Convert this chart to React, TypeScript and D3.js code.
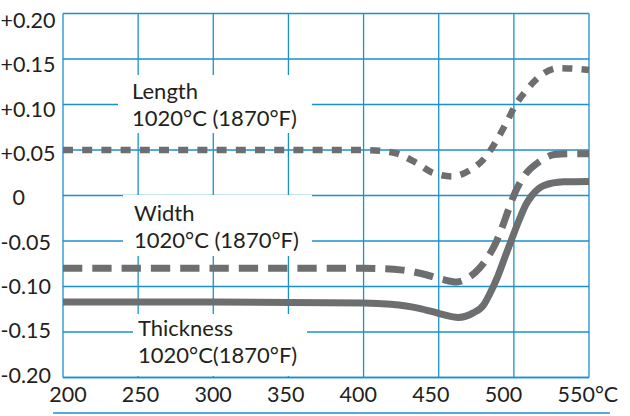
import React from 'react';
import * as d3 from 'd3';

// temperature ticks (°C) and dimensional change ticks
const xTicks = [200, 250, 300, 350, 400, 450, 500, 550];
const xTickLabels = ['200', '250', '300', '350', '400', '450', '500', '550°C'];
const yTicks = [0.2, 0.15, 0.1, 0.05, 0, -0.05, -0.1, -0.15, -0.2];
const yTickLabels = ['+0.20', '+0.15', '+0.10', '+0.05', '0', '-0.05', '-0.10', '-0.15', '-0.20'];

// Length
const lengthTemp = [200, 300, 400, 420, 435, 446, 459, 471, 481, 488, 495, 501, 509, 518, 530, 543, 550];
const lengthVal = [0.05, 0.05, 0.05, 0.047, 0.036, 0.025, 0.021, 0.028, 0.042, 0.059, 0.08, 0.099, 0.117, 0.132, 0.14, 0.139, 0.138];

// Width
const widthTemp = [200, 300, 400, 426, 439, 452, 462, 470, 477, 483, 488, 492, 497, 501, 508, 516, 527, 537, 550];
const widthVal = [-0.08, -0.08, -0.08, -0.082, -0.086, -0.092, -0.095, -0.09, -0.08, -0.067, -0.052, -0.036, -0.013, 0.004, 0.024, 0.036, 0.045, 0.046, 0.046];

// Thickness
const thickTemp = [200, 300, 400, 418, 437, 451, 463, 473, 480, 484, 489, 494, 499, 504, 508, 512, 520, 533, 550];
const thickVal = [-0.117, -0.117, -0.118, -0.1195, -0.124, -0.13, -0.134, -0.129, -0.12, -0.108, -0.09, -0.068, -0.046, -0.025, -0.01, 0.0, 0.011, 0.015, 0.0155];

const labelLength = ['Length', '1020°C (1870°F)'];
const labelWidth = ['Width', '1020°C (1870°F)'];
const labelThick = ['Thickness', '1020°C(1870°F)'];

const BLUE = '#1a90cf';
const GREY = '#6d6e70';
const TEXT = '#231f20';
const FONT = 'Lato, "Open Sans", sans-serif';

export default function App() {
  const x = d3.scaleLinear().domain([200, 550]).range([63, 589]);
  const y = d3.scaleLinear().domain([-0.2, 0.2]).range([377.5, 13.5]);
  // the printed tick labels drift slightly from the gridlines
  const xLab = d3.scaleLinear().domain([200, 550]).range([68, 576]);
  const yLab = d3.scaleLinear().domain([-0.2, 0.2]).range([375, 20.5]);

  const line = d3.line<[number, number]>()
    .x((d) => x(d[0]))
    .y((d) => y(d[1]))
    .curve(d3.curveMonotoneX);

  const zip = (t: number[], v: number[]) => t.map((d, i) => [d, v[i]] as [number, number]);

  const series = [
    { pts: zip(lengthTemp, lengthVal), dash: '10,9.2', w: 6.5 },
    { pts: zip(widthTemp, widthVal), dash: '19.3,10', w: 7 },
    { pts: zip(thickTemp, thickVal), dash: null, w: 7 },
  ];

  // white boxes behind the annotations (they interrupt the grid)
  const boxes = [
    { x0: 118, x1: 312, y0: 75, y1: 133, lines: labelLength, tx: 132, ty: 99 },
    { x0: 123, x1: 312, y0: 195, y1: 256, lines: labelWidth, tx: 134, ty: 220.5 },
    { x0: 133, x1: 307, y0: 314, y1: 376, lines: labelThick, tx: 138, ty: 336 },
  ];

  const [x0, x1] = x.range();
  const [yb, yt] = y.range();

  return (
    <svg width={630} height={416} style={{ position: 'absolute', left: 0, top: 0, background: '#fff' }}>
      {/* grid */}
      <g stroke={BLUE} strokeWidth={1.3}>
        {yTicks.map((t) => (
          <line key={'h' + t} x1={x0} x2={x1} y1={y(t)} y2={y(t)} />
        ))}
        {xTicks.map((t) => (
          <line key={'v' + t} x1={x(t)} x2={x(t)} y1={yt} y2={yb} />
        ))}
      </g>
      {/* annotation boxes */}
      {boxes.map((b, i) => (
        <rect key={'b' + i} x={b.x0} y={b.y0} width={b.x1 - b.x0} height={b.y1 - b.y0} fill="#fff" />
      ))}
      <line x1={x0} x2={x1} y1={yb} y2={yb} stroke={BLUE} strokeWidth={1.3} />
      {/* curves */}
      {series.map((s, i) => (
        <path
          key={'s' + i}
          d={line(s.pts) || ''}
          fill="none"
          stroke={GREY}
          strokeWidth={s.w}
          strokeDasharray={s.dash || undefined}
        />
      ))}
      {/* annotation text */}
      <g fontFamily={FONT} fontSize={22} fill={TEXT}>
        {boxes.map((b, i) => (
          <text key={'t' + i} x={b.tx} y={b.ty}>
            <tspan x={b.tx}>{b.lines[0]}</tspan>
            <tspan x={b.tx} dy={27}>{b.lines[1]}</tspan>
          </text>
        ))}
      </g>
      {/* tick labels */}
      <g fontFamily={FONT} fontSize={21.5} fill={TEXT}>
        {yTicks.map((t, i) => (
          <text key={'yl' + t} x={t === 0 ? 12.5 : 0.5} y={yLab(t) + 7.5}>
            {yTickLabels[i]}
          </text>
        ))}
        {xTicks.map((t, i) => (
          <text
            key={'xl' + t}
            x={i === xTicks.length - 1 ? xLab(t) - 18.5 : xLab(t)}
            y={402}
            textAnchor={i === xTicks.length - 1 ? 'start' : 'middle'}
          >
            {xTickLabels[i]}
          </text>
        ))}
      </g>
      {/* rule under the axis */}
      <line x1={53} x2={610} y1={413} y2={413} stroke={BLUE} strokeWidth={1.3} />
    </svg>
  );
}
